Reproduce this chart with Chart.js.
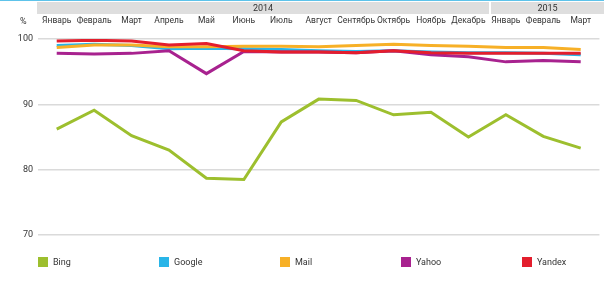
<!DOCTYPE html>
<html><head><meta charset="utf-8">
<script src="https://cdn.jsdelivr.net/npm/chart.js@4/dist/chart.umd.min.js"></script>
<style>
body{margin:0;background:#fff;font-family:Roboto,"Noto Sans",sans-serif;color:#333;}
#wrap{position:relative;width:604px;height:290px;overflow:hidden;}
#c{position:absolute;left:0;top:0;}
.topline{position:absolute;left:0;top:0;width:604px;height:1px;background:#5ec3ea;}
.band{position:absolute;top:2px;height:12px;background:#dedede;font-size:9px;line-height:12px;text-align:center;color:#333;}
.pct{position:absolute;left:20px;top:15px;font-size:9px;line-height:12px;}
.lg{position:absolute;top:257px;font-size:9px;line-height:10px;}
.lg i{position:absolute;left:0;top:0;width:10px;height:10px;}
.lg span{position:absolute;left:15px;top:0;white-space:nowrap;}
</style></head><body>
<div id="wrap">
<canvas id="c" width="604" height="290"></canvas>
<div class="topline"></div>
<div class="band" id="b2014" style="left:37px;width:452px;"></div>
<div class="band" id="b2015" style="left:491px;width:113px;"></div>
<div class="pct">%</div>
<div id="legend"></div>
</div>
<script>
const years = ["2014", "2015"];
const months = ["Январь","Февраль","Март","Апрель","Май","Июнь","Июль","Август","Сентябрь","Октябрь","Ноябрь","Декабрь","Январь","Февраль","Март"];
const seriesNames = ["Bing","Google","Mail","Yahoo","Yandex"];
const seriesColors = ["#9dbf2e","#29b5e8","#f7b027","#a8228f","#e31e2d"];
const bing   = [86.2, 89.1, 85.2, 83.0, 78.7, 78.5, 87.3, 90.8, 90.6, 88.4, 88.8, 85.0, 88.4, 85.1, 83.3];
const google = [99.0, 99.2, 99.0, 98.5, 98.6, 98.5, 98.4, 98.2, 98.1, 98.2, 98.0, 97.9, 97.9, 97.8, 97.6];
const mail   = [98.7, 99.1, 99.1, 98.8, 98.8, 98.9, 98.9, 98.8, 99.0, 99.2, 99.0, 98.9, 98.7, 98.7, 98.4];
const yahoo  = [97.8, 97.7, 97.8, 98.2, 94.7, 98.1, 98.0, 98.0, 97.9, 98.2, 97.6, 97.3, 96.5, 96.7, 96.5];
const yandex = [99.7, 99.8, 99.7, 99.1, 99.3, 98.2, 98.0, 98.0, 97.9, 98.2, 97.9, 97.8, 97.8, 97.8, 97.8];
const yTicks = [70, 80, 90, 100];

document.getElementById('b2014').textContent = years[0];
document.getElementById('b2015').textContent = years[1];

const values = [bing, google, mail, yahoo, yandex];
const lg = document.getElementById('legend');
seriesNames.forEach((n, i) => {
  const d = document.createElement('div');
  d.className = 'lg';
  d.style.left = (38 + i * 121) + 'px';
  d.innerHTML = '<i style="background:' + seriesColors[i] + '"></i><span>' + n + '</span>';
  lg.appendChild(d);
});

new Chart(document.getElementById('c'), {
  type: 'line',
  data: {
    labels: months,
    datasets: seriesNames.map((n, i) => ({
      label: n,
      data: values[i],
      borderColor: seriesColors[i],
      backgroundColor: seriesColors[i],
      borderWidth: 3,
      pointRadius: 0,
      tension: 0,
      fill: false,
      order: 5 - i
    }))
  },
  options: {
    responsive: false,
    animation: false,
    layout: { padding: { left: 0, right: 0, top: 0, bottom: 55 } },
    plugins: { legend: { display: false }, tooltip: { enabled: false } },
    scales: {
      x: {
        position: 'top',
        offset: true,
        grid: { display: false, drawTicks: false },
        border: { display: false },
        ticks: {
          autoSkip: false, maxRotation: 0, minRotation: 0, padding: 13,
          color: '#333', font: { family: 'Roboto', size: 8.5 }
        },
        afterFit: (s) => { s.height = 39; }
      },
      y: {
        min: 70, max: 100,
        afterBuildTicks: (s) => { s.ticks = yTicks.map(v => ({ value: v })); },
        grid: { color: '#dadada', lineWidth: 1.5, drawTicks: false },
        border: { display: false },
        ticks: { padding: 5, color: '#333', font: { family: 'Roboto', size: 9 } },
        afterFit: (s) => { s.width = 38; }
      }
    }
  }
});
</script>
</body></html>
